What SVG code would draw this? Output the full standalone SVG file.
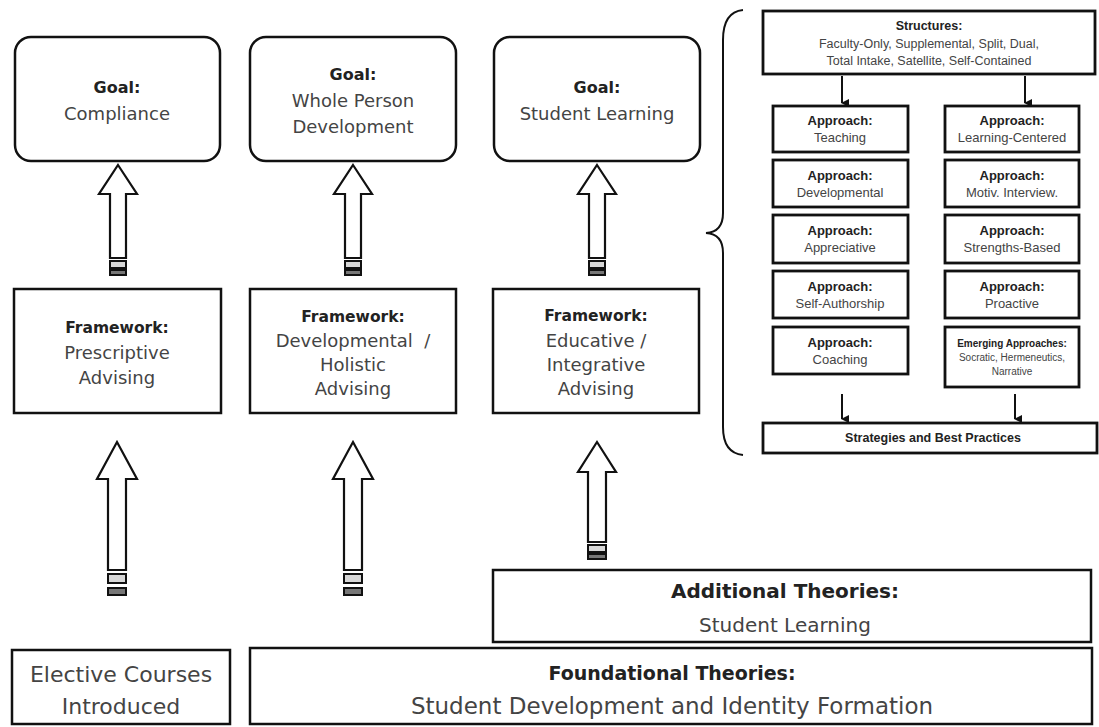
<svg xmlns="http://www.w3.org/2000/svg" width="1099" height="727" viewBox="0 0 1099 727">
<defs>
<style>
.box{fill:#fff;stroke:#111;stroke-width:2.5}
.sbox{fill:#fff;stroke:#111;stroke-width:2.8}
.arr{fill:#fff;stroke:#111;stroke-width:2.2;stroke-linejoin:miter}
.st1{fill:#d8d8d8;stroke:#111;stroke-width:2}
.st2{fill:#777;stroke:#111;stroke-width:2}
.b{font-family:"DejaVu Sans",sans-serif;font-weight:bold;fill:#222;text-anchor:middle}
.r{font-family:"DejaVu Sans",sans-serif;fill:#444;text-anchor:middle}
.cb{font-family:"Liberation Sans",Arial,sans-serif;font-weight:bold;fill:#222;text-anchor:middle}
.cr{font-family:"Liberation Sans",Arial,sans-serif;fill:#444;text-anchor:middle}
.ln{fill:none;stroke:#111;stroke-width:2}
</style>
<marker id="ah" markerWidth="8" markerHeight="8" refX="4" refY="7" orient="auto" markerUnits="userSpaceOnUse" viewBox="0 0 8 8">
<path d="M0,0 L8,0 L4,8 z" fill="#111"/>
</marker>
</defs>

<g id="goal-compliance">
<rect class="box" x="15" y="37" width="205" height="124" rx="16"/>
<text class="b" x="117" y="93" font-size="16">Goal:</text>
<text class="r" x="117" y="120" font-size="18">Compliance</text>
</g>
<g id="goal-whole-person">
<rect class="box" x="250" y="37" width="206" height="124" rx="16"/>
<text class="b" x="353" y="80" font-size="16">Goal:</text>
<text class="r" x="353" y="107" font-size="18">Whole Person</text>
<text class="r" x="353" y="133" font-size="18">Development</text>
</g>
<g id="goal-student-learning">
<rect class="box" x="494" y="37" width="206" height="124" rx="16"/>
<text class="b" x="597" y="93" font-size="16">Goal:</text>
<text class="r" x="597" y="120" font-size="18">Student Learning</text>
</g>

<g id="fw-prescriptive">
<rect class="box" x="14" y="289" width="207" height="124"/>
<text class="b" x="117" y="333" font-size="15.5">Framework:</text>
<text class="r" x="117" y="359" font-size="18">Prescriptive</text>
<text class="r" x="117" y="384" font-size="18">Advising</text>
</g>
<g id="fw-developmental">
<rect class="box" x="250" y="289" width="206" height="124"/>
<text class="b" x="353" y="322" font-size="15.5">Framework:</text>
<text class="r" x="353" y="347" font-size="18" style="white-space:pre" xml:space="preserve">Developmental  /</text>
<text class="r" x="353" y="371" font-size="18">Holistic</text>
<text class="r" x="353" y="395" font-size="18">Advising</text>
</g>
<g id="fw-educative">
<rect class="box" x="493" y="289" width="206" height="124"/>
<text class="b" x="596" y="321" font-size="15.5">Framework:</text>
<text class="r" x="596" y="347" font-size="18">Educative /</text>
<text class="r" x="596" y="371" font-size="18">Integrative</text>
<text class="r" x="596" y="395" font-size="18">Advising</text>
</g>

<g id="elective">
<rect class="box" x="12" y="650" width="218" height="74"/>
<text class="r" x="121" y="682" font-size="22">Elective Courses</text>
<text class="r" x="121" y="714" font-size="22">Introduced</text>
</g>
<g id="foundational">
<rect class="box" x="250" y="648" width="842" height="76"/>
<text class="b" x="672" y="680" font-size="19">Foundational Theories:</text>
<text class="r" x="672" y="714" font-size="23">Student Development and Identity Formation</text>
</g>
<g id="additional">
<rect class="box" x="493" y="570" width="598" height="72"/>
<text class="b" x="785" y="598" font-size="20">Additional Theories:</text>
<text class="r" x="785" y="632" font-size="20">Student Learning</text>
</g>

<g id="structures">
<rect class="sbox" x="763" y="11" width="332" height="63"/>
<text class="cb" x="929" y="30" font-size="12.5">Structures:</text>
<text class="cr" x="929" y="48" font-size="12.5">Faculty-Only, Supplemental, Split, Dual,</text>
<text class="cr" x="929" y="65" font-size="12.5">Total Intake, Satellite, Self-Contained</text>
</g>
<g id="ap-teaching">
<rect class="sbox" x="773" y="106" width="135" height="46"/>
<text class="cb" x="840" y="125" font-size="13">Approach:</text>
<text class="cr" x="840" y="142" font-size="13">Teaching</text>
</g>
<g id="ap-developmental">
<rect class="sbox" x="773" y="160" width="135" height="47"/>
<text class="cb" x="840" y="180" font-size="13">Approach:</text>
<text class="cr" x="840" y="197" font-size="13">Developmental</text>
</g>
<g id="ap-appreciative">
<rect class="sbox" x="773" y="215" width="135" height="48"/>
<text class="cb" x="840" y="235" font-size="13">Approach:</text>
<text class="cr" x="840" y="252" font-size="13">Appreciative</text>
</g>
<g id="ap-self-authorship">
<rect class="sbox" x="773" y="271" width="135" height="47"/>
<text class="cb" x="840" y="291" font-size="13">Approach:</text>
<text class="cr" x="840" y="308" font-size="13">Self-Authorship</text>
</g>
<g id="ap-coaching">
<rect class="sbox" x="773" y="327" width="135" height="47"/>
<text class="cb" x="840" y="347" font-size="13">Approach:</text>
<text class="cr" x="840" y="364" font-size="13">Coaching</text>
</g>
<g id="ap-learning-centered">
<rect class="sbox" x="945" y="106" width="134" height="46"/>
<text class="cb" x="1012" y="125" font-size="13">Approach:</text>
<text class="cr" x="1012" y="142" font-size="13">Learning-Centered</text>
</g>
<g id="ap-motiv">
<rect class="sbox" x="945" y="160" width="134" height="47"/>
<text class="cb" x="1012" y="180" font-size="13">Approach:</text>
<text class="cr" x="1012" y="197" font-size="13">Motiv. Interview.</text>
</g>
<g id="ap-strengths">
<rect class="sbox" x="945" y="215" width="134" height="48"/>
<text class="cb" x="1012" y="235" font-size="13">Approach:</text>
<text class="cr" x="1012" y="252" font-size="13">Strengths-Based</text>
</g>
<g id="ap-proactive">
<rect class="sbox" x="945" y="271" width="134" height="47"/>
<text class="cb" x="1012" y="291" font-size="13">Approach:</text>
<text class="cr" x="1012" y="308" font-size="13">Proactive</text>
</g>
<g id="ap-emerging">
<rect class="sbox" x="945" y="327" width="134" height="60"/>
<text class="cb" x="1012" y="347" font-size="10">Emerging Approaches:</text>
<text class="cr" x="1012" y="361" font-size="10">Socratic, Hermeneutics,</text>
<text class="cr" x="1012" y="375" font-size="10">Narrative</text>
</g>
<g id="strategies">
<rect class="sbox" x="763" y="423" width="334" height="30"/>
<text class="cb" x="933" y="442" font-size="12.5">Strategies and Best Practices</text>
</g>

<g id="connectors">
<path class="ln" d="M743 10 Q723 12 723 40 L723 213 Q723 232 706 233 Q723 234 723 253 L723 427 Q723 453 743 455" stroke-width="2.5"/>
<line class="ln" x1="842" y1="76" x2="842" y2="103" marker-end="url(#ah)"/>
<line class="ln" x1="1025" y1="76" x2="1025" y2="103" marker-end="url(#ah)"/>
<line class="ln" x1="842" y1="394" x2="842" y2="419" marker-end="url(#ah)"/>
<line class="ln" x1="1015" y1="394" x2="1015" y2="419" marker-end="url(#ah)"/>

<polygon class="arr" points="118,165 137,194 126,194 126,258 110,258 110,194 99,194"/>
<rect class="st1" x="110" y="261" width="16" height="7"/>
<rect class="st2" x="110" y="270" width="16" height="5"/>
<polygon class="arr" points="353,165 372,194 361,194 361,258 345,258 345,194 334,194"/>
<rect class="st1" x="345" y="261" width="16" height="7"/>
<rect class="st2" x="345" y="270" width="16" height="5"/>
<polygon class="arr" points="597,165 616,194 605,194 605,258 589,258 589,194 578,194"/>
<rect class="st1" x="589" y="261" width="16" height="7"/>
<rect class="st2" x="589" y="270" width="16" height="5"/>

<polygon class="arr" points="117,442 137,479 126,479 126,570 108,570 108,479 97,479"/>
<rect class="st1" x="108" y="574" width="18" height="9"/>
<rect class="st2" x="108" y="588" width="18" height="7"/>
<polygon class="arr" points="353,442 373,479 362,479 362,570 344,570 344,479 333,479"/>
<rect class="st1" x="344" y="574" width="18" height="9"/>
<rect class="st2" x="344" y="588" width="18" height="7"/>
<polygon class="arr" points="597,442 616,472 606,472 606,542 588,542 588,472 578,472"/>
<rect class="st1" x="588" y="545" width="18" height="7"/>
<rect class="st2" x="588" y="554" width="18" height="5"/>
</g>
</svg>
